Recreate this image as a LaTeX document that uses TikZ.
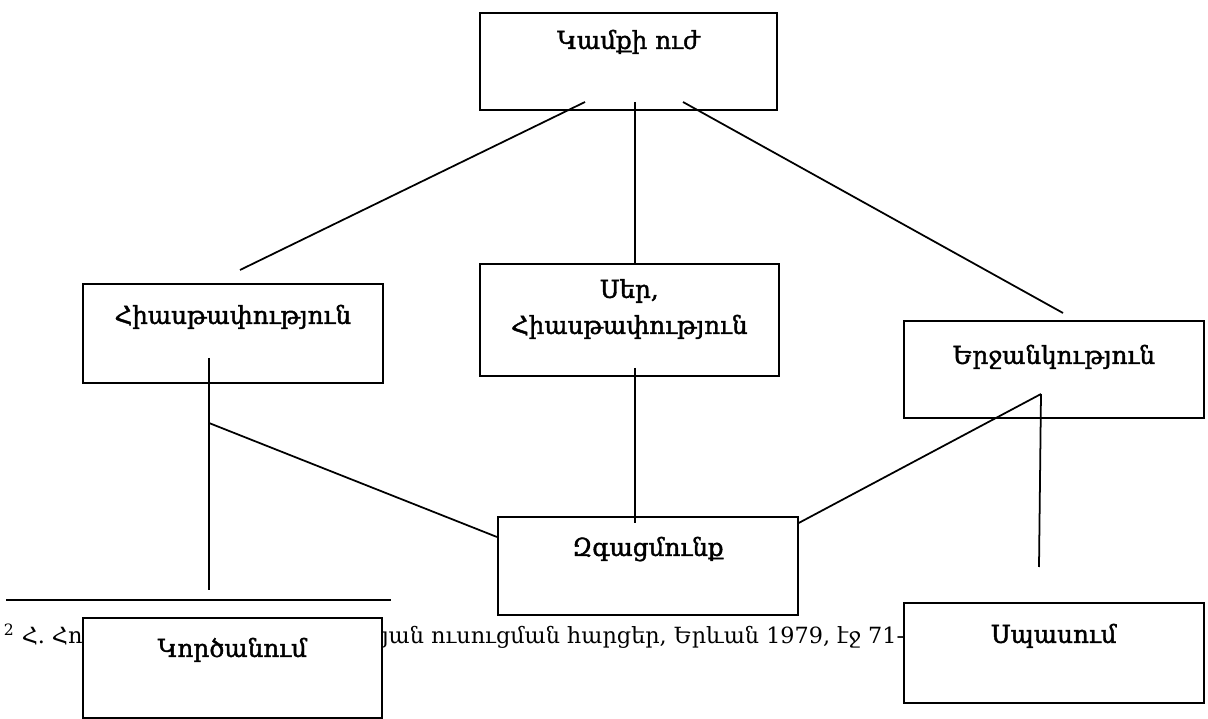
\documentclass[tikz,border=0pt]{standalone}
\usepackage{fontspec}
\newfontfamily\armfont[FakeBold=1.6]{DejaVu Serif}
\newfontfamily\notefont{DejaVu Serif}
\usetikzlibrary{positioning}

\begin{document}
\begin{tikzpicture}[x=0.02cm,y=-0.02cm,line width=1pt,
  box/.style={draw,fill=white,anchor=north west,inner sep=0pt,
    minimum width=6cm,align=center,
    font=\armfont\fontsize{14}{20.5}\selectfont},
  note/.style={inner sep=0pt,font=\notefont\fontsize{12.7}{15}\selectfont}]

\useasboundingbox (0,0) rectangle (1208,719);

% footnote under the chart
\draw[line width=1.2pt] (6,600) -- (391,600);
\node[note,anchor=base west] (fn_a) at (3,643) {\textsuperscript{2} Հ. Հու};
\node[note,anchor=base east] (fn_b) at (905,643) {յան ուսուցման հարցեր, Երևան 1979, էջ 71-};

% boxes
\node[box,minimum width=5.94cm,text height=0.72cm,text depth=1.22cm] (will) at (479,12) {Կամքի ուժ};
\node[box,text height=0.8cm,text depth=1.18cm] (disap) at (82,283) {Հիասթափություն};
\node[box,minimum width=5.98cm,text height=1.4cm,text depth=0.84cm] (love) at (479,263) {Սեր,\\Հիասթափություն};
\node[box,text height=0.86cm,text depth=1.08cm] (happy) at (903,320) {Երջանկություն};
\node[box,text height=0.78cm,text depth=1.18cm] (feel) at (497,516) {Զգացմունք};
\node[box,minimum width=5.98cm,text height=0.78cm,text depth=1.22cm] (ruin) at (82,617) {Կործանում};
\node[box,text height=0.8cm,text depth=1.2cm] (wait) at (903,602) {Սպասում};

% line ends
\coordinate (will_l) at (585,102);
\coordinate (will_m) at (635,102);
\coordinate (will_r) at (683,102);
\coordinate (disap_t) at (240,270);
\coordinate (happy_t) at (1063,313);
\coordinate (disap_b) at (209,358);
\coordinate (disap_k) at (209,423);
\coordinate (ruin_t) at (209,590);
\coordinate (love_b) at (635,368);
\coordinate (happy_b) at (1041,394);
\coordinate (wait_t) at (1039,567);

\path (will_l) edge (disap_t)
  (will_m) edge (love.north -| will_m)
  (will_r) edge (happy_t)
  (disap_b) edge (ruin_t)
  (disap_k) edge (feel.west |- 0,537)
  (love_b) edge (635,523)
  (happy_b) edge (feel.east |- 0,523)
  (happy_b) edge (wait_t);

\end{tikzpicture}
\end{document}
